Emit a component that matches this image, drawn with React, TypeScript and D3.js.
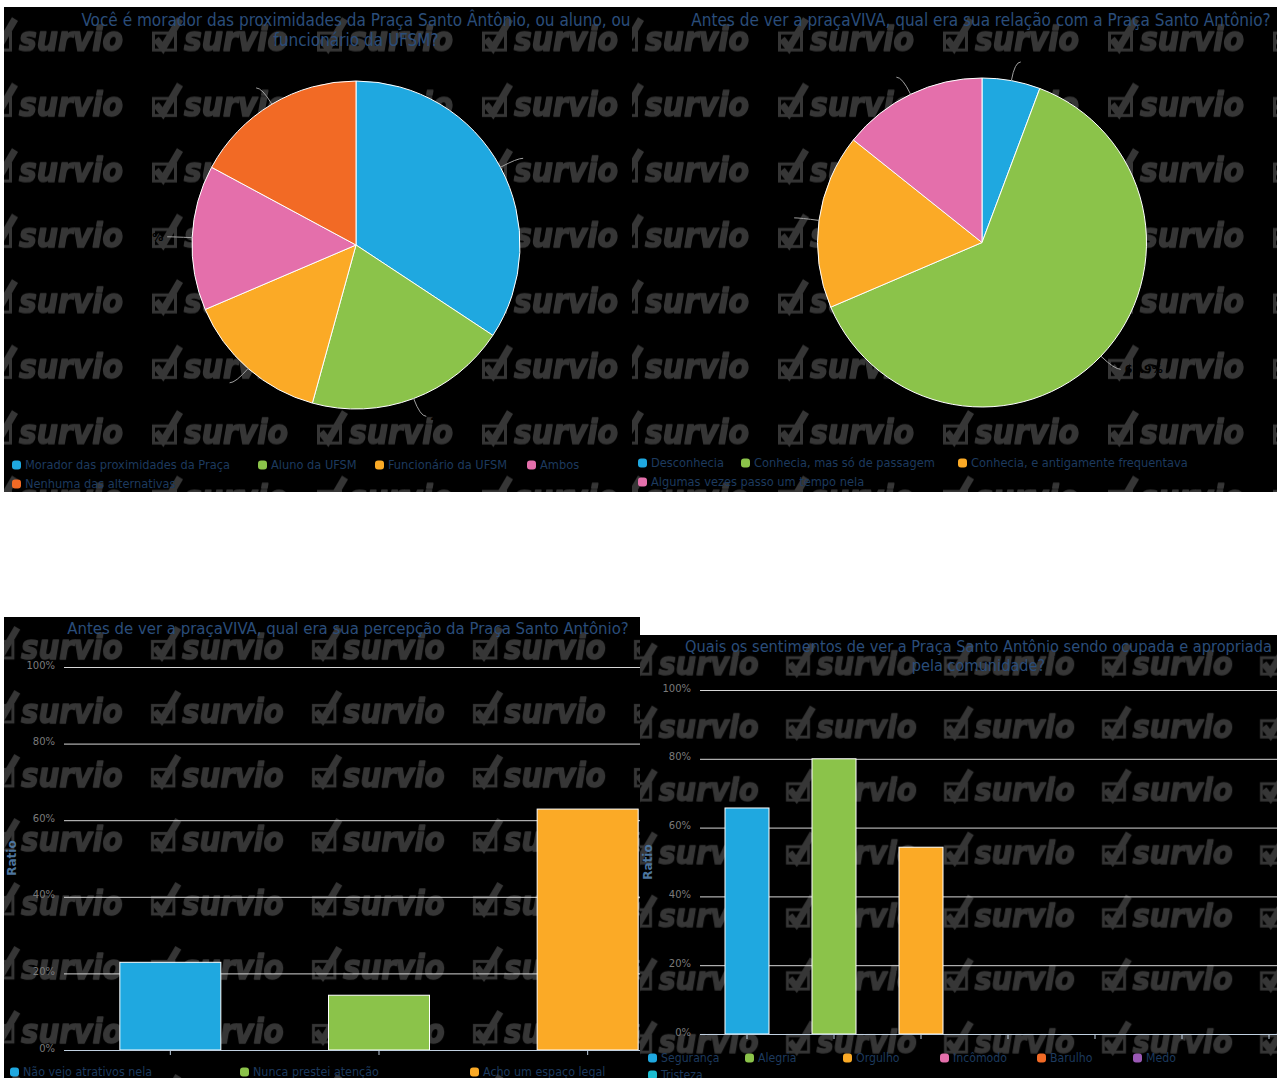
import { useEffect, useRef } from "react";
import * as d3 from "d3";

// Survio export: two pies (top) and two ratio bar charts (bottom)

const BLUE = "#1fa8e0";
const GREEN = "#8bc34a";
const ORANGE = "#fbaa26";
const PINK = "#e46fab";
const RED_ORANGE = "#f26a25";
const PURPLE = "#9b59b6";
const TEAL = "#1bbccf";

const residenceTitle = ["Você é morador das proximidades da Praça Santo Ântônio, ou aluno, ou", "funcionário da UFSM?"];
const residenceLabels = ["Morador das proximidades da Praça", "Aluno da UFSM", "Funcionário da UFSM", "Ambos", "Nenhuma das alternativas"];
const residenceCounts = [12, 7, 5, 5, 6];
const residenceColors = [BLUE, GREEN, ORANGE, PINK, RED_ORANGE];

const relationTitle = ["Antes de ver a praçaVIVA, qual era sua relação com a Praça Santo Antônio?"];
const relationLabels = ["Desconhecia", "Conhecia, mas só de passagem", "Conhecia, e antigamente frequentava", "Algumas vezes passo um tempo nela"];
const relationCounts = [2, 22, 6, 5];
const relationColors = [BLUE, GREEN, ORANGE, PINK];

const perceptionTitle = ["Antes de ver a praçaVIVA, qual era sua percepção da Praça Santo Antônio?"];
const perceptionLabels = ["Não vejo atrativos nela", "Nunca prestei atenção", "Acho um espaço legal"];
const perceptionRatios = [22.9, 14.3, 62.9];
const perceptionColors = [BLUE, GREEN, ORANGE];

const feelingTitle = ["Quais os sentimentos de ver a Praça Santo Antônio sendo ocupada e apropriada", "pela comunidade?"];
const feelingLabels = ["Segurança", "Alegria", "Orgulho", "Incômodo", "Barulho", "Medo", "Tristeza"];
const feelingRatios = [65.7, 80, 54.3, 0, 0, 0, 0];
const feelingColors = [BLUE, GREEN, ORANGE, PINK, RED_ORANGE, PURPLE, TEAL];

const ratioTicks = [0, 20, 40, 60, 80, 100];

const FONT = "'DejaVu Sans', Verdana, sans-serif";
const TITLE_COLOR = "#2a4d7a";
const LEGEND_COLOR = "#1d3a5e";
const WM_COLOR = "#363636";

// panel frames + watermark tiling (box x of a logo, its baseline, tile step, scale)
const panels = [
	{ id: "p1", x: 4, y: 7, w: 628, h: 485, wm: { bx: 152, by: 51, sx: 165, sy: 65.5, s: 1 } },
	{ id: "p2", x: 632, y: 7, w: 645, h: 485, wm: { bx: 778, by: 51, sx: 165, sy: 65.5, s: 1 } },
	{ id: "p3", x: 4, y: 617, w: 636, h: 461, wm: { bx: 151, by: 659, sx: 161, sy: 64, s: 0.976 } },
	{ id: "p4", x: 640, y: 635, w: 637, h: 443, wm: { bx: 786, by: 675, sx: 158, sy: 63, s: 0.96 } },
];

export default function App() {
	const ref = useRef<SVGSVGElement>(null);

	useEffect(() => {
		const svg = d3.select(ref.current);
		svg.selectAll("*").remove();
		const defs = svg.append("defs");

		// Panels with tiled watermark
		panels.forEach(p => {
			const { bx, by, sx, sy, s } = p.wm;
			const pat = defs.append("pattern")
				.attr("id", `wm-${p.id}`)
				.attr("patternUnits", "userSpaceOnUse")
				.attr("x", bx - 5 * s)
				.attr("y", by - 45 * s)
				.attr("width", sx)
				.attr("height", sy);
			const logo = pat.append("g").attr("transform", `scale(${s}) translate(5,45)`);
			logo.append("rect")
				.attr("x", 1.5).attr("y", -18).attr("width", 22).attr("height", 17)
				.attr("fill", "none").attr("stroke", WM_COLOR).attr("stroke-width", 3);
			logo.append("path")
				.attr("d", "M4,-12 L11,-3 L28,-32")
				.attr("fill", "none").attr("stroke", WM_COLOR).attr("stroke-width", 7);
			logo.append("text")
				.attr("x", 32).attr("y", 0)
				.attr("font-family", FONT).attr("font-weight", "bold").attr("font-style", "italic")
				.attr("font-size", 34)
				.attr("textLength", 104).attr("lengthAdjust", "spacingAndGlyphs")
				.attr("fill", WM_COLOR)
				.attr("stroke", WM_COLOR).attr("stroke-width", 1.6).attr("stroke-linejoin", "round")
				.text("survio");

			defs.append("clipPath").attr("id", `clip-${p.id}`)
				.append("rect").attr("x", p.x).attr("y", p.y).attr("width", p.w).attr("height", p.h);

			svg.append("rect").attr("x", p.x).attr("y", p.y).attr("width", p.w).attr("height", p.h).attr("fill", "#000");
			svg.append("rect").attr("x", p.x).attr("y", p.y).attr("width", p.w).attr("height", p.h).attr("fill", `url(#wm-${p.id})`);
		});

		const layer = (id: string) => svg.append("g").attr("clip-path", `url(#clip-${id})`);

		const title = (g: any, lines: string[], cx: number, y0: number, size = 17, lead = 20) => {
			lines.forEach((t, i) => {
				g.append("text")
					.attr("x", cx).attr("y", y0 + i * lead)
					.attr("text-anchor", "middle")
					.attr("font-family", FONT).attr("font-stretch", "condensed")
					.attr("font-size", size).attr("fill", TITLE_COLOR)
					.text(t);
			});
		};

		const legend = (g: any, labels: string[], colors: string[], xs: number[], ys: number[], size = 12.7) => {
			labels.forEach((t, i) => {
				g.append("rect")
					.attr("x", xs[i]).attr("y", ys[i] - 4.5).attr("width", 9).attr("height", 9)
					.attr("rx", 3).attr("fill", colors[i]);
				g.append("text")
					.attr("x", xs[i] + 13).attr("y", ys[i]).attr("dy", "0.35em")
					.attr("font-family", FONT).attr("font-stretch", "condensed")
					.attr("font-size", size).attr("fill", LEGEND_COLOR)
					.text(t);
			});
		};

		const pieChart = (g: any, counts: number[], colors: string[], cx: number, cy: number, r: number) => {
			const total = d3.sum(counts);
			const arcs = d3.pie<number>().sort(null)(counts);
			const arc = d3.arc<d3.PieArcDatum<number>>().innerRadius(0).outerRadius(r);
			const pg = g.append("g").attr("transform", `translate(${cx},${cy})`);
			pg.selectAll("path.slice")
				.data(arcs)
				.enter()
				.append("path")
				.attr("class", "slice")
				.attr("d", arc)
				.attr("fill", (d: any, i: number) => colors[i])
				.attr("stroke", "#fff")
				.attr("stroke-width", 1);

			// connectors + (black) data labels
			arcs.forEach(a => {
				const mid = (a.startAngle + a.endAngle) / 2;
				const sx = Math.sin(mid), sy = -Math.cos(mid);
				const side = sx >= 0 ? 1 : -1;
				const p0 = [sx * r, sy * r];
				const p1 = [sx * (r + 19), sy * (r + 19)];
				const p2 = [p1[0] + side * 6, p1[1]];
				pg.append("path")
					.attr("d", `M${p0[0]},${p0[1]} Q${p1[0]},${p1[1]} ${p2[0]},${p2[1]}`)
					.attr("fill", "none").attr("stroke", "#a0a0a0").attr("stroke-width", 1);
				pg.append("text")
					.attr("x", p2[0] + side * 4).attr("y", p2[1]).attr("dy", "0.35em")
					.attr("text-anchor", side > 0 ? "start" : "end")
					.attr("font-family", FONT).attr("font-weight", "bold").attr("font-size", 11)
					.attr("fill", "#000")
					.text(`${d3.format(".1f")((a.data / total) * 100)}%`);
			});
		};

		const barChart = (
			g: any, labels: string[], ratios: number[], colors: string[],
			opts: { gridX: number; right: number; x0: number; x1: number; yTop: number; yBottom: number; barW: number }
		) => {
			const x = d3.scaleBand<string>().domain(labels).range([opts.x0, opts.x1]);
			const y = d3.scaleLinear().domain([0, 100]).range([opts.yBottom, opts.yTop]);

			const yAxis = g.append("g")
				.attr("transform", `translate(${opts.gridX},0)`)
				.call(d3.axisLeft(y).tickValues(ratioTicks).tickSize(-(opts.right - opts.gridX)).tickPadding(9).tickFormat((d: any) => `${d}%`));
			yAxis.select(".domain").remove();
			yAxis.selectAll("line").attr("stroke", "#d6d6d6");
			yAxis.selectAll("text").attr("fill", "#7a7a7a").attr("font-size", 10).attr("font-family", FONT).attr("dy", "0.1em");

			g.selectAll(null)
				.data(ratios)
				.enter()
				.append("rect")
				.attr("x", (d: number, i: number) => (x(labels[i]) as number) + (x.bandwidth() - opts.barW) / 2)
				.attr("y", (d: number) => y(d))
				.attr("width", opts.barW)
				.attr("height", (d: number) => opts.yBottom - y(d))
				.attr("fill", (d: number, i: number) => colors[i])
				.attr("stroke", "#fff")
				.attr("stroke-width", 1);

			const xAxis = g.append("g")
				.attr("transform", `translate(0,${opts.yBottom})`)
				.call(d3.axisBottom(x).tickSize(5).tickSizeOuter(0).tickFormat(() => ""));
			xAxis.select(".domain").attr("stroke", "#c0d0e0").attr("d", `M${opts.gridX},0.5H${opts.right}`);
			xAxis.selectAll("line").attr("stroke", "#c0d0e0");
		};

		const ratioLabel = (g: any, cx: number, cy: number) => {
			g.append("text")
				.attr("transform", `translate(${cx},${cy}) rotate(-90)`)
				.attr("text-anchor", "middle").attr("dy", "0.35em")
				.attr("font-family", FONT).attr("font-weight", "bold").attr("font-size", 12)
				.attr("fill", "#4d759e")
				.text("Ratio");
		};

		// Panel 1 - residence pie
		const g1 = layer("p1");
		title(g1, residenceTitle, 356, 26);
		pieChart(g1, residenceCounts, residenceColors, 356, 245, 164);
		legend(g1, residenceLabels, residenceColors, [12, 258, 375, 527, 12], [465, 465, 465, 465, 484]);

		// Panel 2 - relation pie
		const g2 = layer("p2");
		title(g2, relationTitle, 981, 26);
		pieChart(g2, relationCounts, relationColors, 982, 242.5, 164.5);
		legend(g2, relationLabels, relationColors, [638, 741, 958, 638], [463, 463, 463, 482]);

		// Panel 3 - perception bars
		const g3 = layer("p3");
		title(g3, perceptionTitle, 348, 634, 16.6);
		barChart(g3, perceptionLabels, perceptionRatios, perceptionColors,
			{ gridX: 64, right: 640, x0: 66, x1: 692, yTop: 667, yBottom: 1050, barW: 101 });
		ratioLabel(g3, 12, 858);
		legend(g3, perceptionLabels, perceptionColors, [10, 240, 470], [1072, 1072, 1072], 12.4);

		// Panel 4 - feelings bars
		const g4 = layer("p4");
		title(g4, feelingTitle, 978.5, 652, 16.2, 19);
		barChart(g4, feelingLabels, feelingRatios, feelingColors,
			{ gridX: 700, right: 1277, x0: 703.5, x1: 1312.5, yTop: 690, yBottom: 1034, barW: 44 });
		ratioLabel(g4, 648, 862);
		legend(g4, feelingLabels, feelingColors, [648, 745, 843, 940, 1037, 1133, 648], [1058, 1058, 1058, 1058, 1058, 1058, 1075], 12.2);
	}, []);

	return (
		<svg
			ref={ref}
			width={1277}
			height={1078}
			style={{ position: "absolute", left: 0, top: 0, display: "block", background: "#fff" }}
		/>
	);
}
